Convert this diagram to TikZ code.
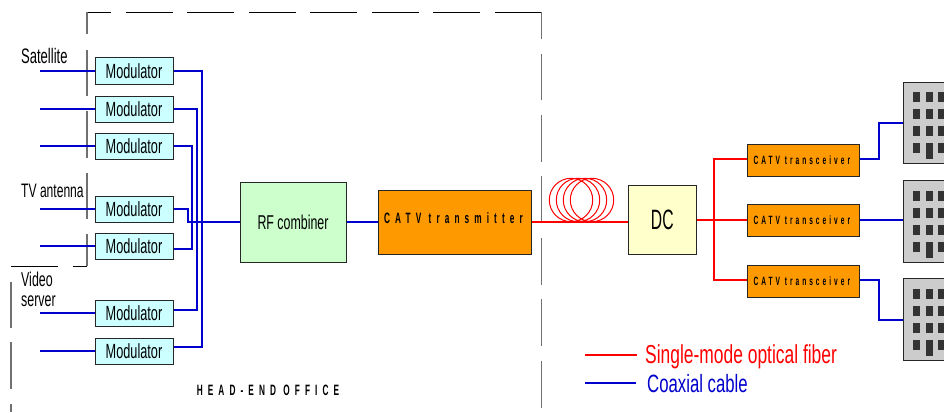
\documentclass[tikz,border=0pt]{standalone}
\usepackage{fontspec}
\setmainfont{Liberation Sans}
\newfontfamily\condfont[FakeStretch=0.62]{Liberation Sans}
\newfontfamily\legendfont[FakeStretch=0.67]{Liberation Sans}
\newfontfamily\dcfont[FakeStretch=0.56]{Liberation Sans}
\newfontfamily\spacedfont[FakeStretch=0.55,LetterSpace=34]{Liberation Sans Bold}
\newfontfamily\smallspaced[FakeStretch=0.55,LetterSpace=25]{Liberation Sans Bold}
\definecolor{wire}{HTML}{0000CC}
\definecolor{fiber}{HTML}{FF0000}
\definecolor{orangebox}{HTML}{FF9900}
\definecolor{dashgray}{HTML}{707070}
\definecolor{modfill}{HTML}{CCFFFF}
\definecolor{rffill}{HTML}{CCFFCC}
\definecolor{dcfill}{HTML}{FFFFCC}
\definecolor{bldgfill}{HTML}{CCCCCC}
\definecolor{winfill}{HTML}{333333}
\tikzset{
  x=1pt,y=-1pt,
  box/.style={draw=black!85,line width=1pt,inner sep=0pt},
  modbox/.style={box,fill=modfill,minimum width=78pt,minimum height=26pt,font=\condfont\fontsize{20.5}{20.5}\selectfont},
  txbox/.style={box,fill=orangebox,minimum width=111.5pt,minimum height=32pt,font=\smallspaced\fontsize{12}{12}\selectfont},
  bldg/.style={draw=black!85,line width=1pt,fill=bldgfill,minimum width=60pt,minimum height=81.5pt,inner sep=0pt},
  coax/.style={draw=wire,line width=1.3pt},
  optic/.style={draw=fiber,line width=1.3pt},
  vdash/.style={draw=dashgray,line width=1.3pt},
  hdash/.style={draw=black,line width=1pt},
  lbl/.style={anchor=west,inner sep=0pt,font=\condfont\fontsize{20}{20}\selectfont},
  legendlbl/.style={anchor=west,inner sep=0pt,font=\legendfont\fontsize{26}{26}\selectfont},
  win/.style={fill=winfill,draw=none},
}
\begin{document}
\begin{tikzpicture}
\clip (0,0) rectangle (944,412);
\fill[white] (0,0) rectangle (944,412);
% office outline
\foreach \a/\b in {87/111,126/173,187/234,249/296,310/357,372/419,433/480,495/542}
  \draw[hdash] (\a,12.5) -- (\b,12.5);
\foreach \a/\b in {12.5/39,54/100,115/162,176/223,238/285,299/346,361/408}
  \draw[vdash] (541.5,\a) -- (541.5,\b);
\foreach \a/\b in {12.5/34.5,50/96,111/157.5,172.7/219,234/266}
  \draw[vdash] (87,\a) -- (87,\b);
\foreach \a/\b in {281.5/327.5,342/388.5,404/412}
  \draw[vdash] (11,\a) -- (11,\b);
\draw[hdash] (11,266.5) -- (58,266.5);
\draw[hdash] (73,266.5) -- (87,266.5);
% nodes
\node[modbox] (m1) at (134,71) {Modulator};
\node[modbox] (m2) at (134,109) {Modulator};
\node[modbox] (m3) at (134,146) {Modulator};
\node[modbox] (m4) at (134,209) {Modulator};
\node[modbox] (m5) at (134,246) {Modulator};
\node[modbox] (m6) at (134,313) {Modulator};
\node[modbox] (m7) at (134,351) {Modulator};
\node[box,fill=rffill,minimum width=106pt,minimum height=80pt,font=\condfont\fontsize{20}{20}\selectfont] (rf) at (293,222) {RF combiner};
\node[box,fill=orangebox,minimum width=153pt,minimum height=64pt] (tx) at (455,222) {};
\node[inner sep=0pt,font=\spacedfont\fontsize{15}{15}\selectfont] (txt) at (453.5,218) {CATV transmitter};
\node[box,fill=dcfill,minimum width=67.5pt,minimum height=69pt,font=\dcfont\fontsize{28}{28}\selectfont] (dc) at (662.3,219.5) {DC};
\node[txbox] (t1) at (803.3,160) {CATV transceiver\hspace*{3pt}};
\node[txbox] (t2) at (803.3,220) {CATV transceiver\hspace*{3pt}};
\node[txbox] (t3) at (803.3,281) {CATV transceiver\hspace*{3pt}};
\node[bldg,anchor=north west] (b1) at (902.5,81.5) {};
\node[bldg,anchor=north west] (b2) at (902.5,180) {};
\node[bldg,anchor=north west] (b3) at (902.5,278) {};
\foreach \t in {81.5,180,278}{
  \foreach \r in {10.5,27.5,44.5,61.5}{
    \fill[win] (913,\t+\r) rectangle (920,\t+\r+10);
    \fill[win] (938,\t+\r) rectangle (945,\t+\r+10);
  }
  \foreach \r in {10.5,27.5,44.5}
    \fill[win] (926,\t+\r) rectangle (933,\t+\r+10);
  \fill[win] (926,\t+61.5) rectangle (933,\t+77.5);
}
% free ends
\coordinate (i1) at (40,71);
\coordinate (i2) at (40,109);
\coordinate (i3) at (40,146);
\coordinate (i4) at (40,209);
\coordinate (i5) at (40,246);
\coordinate (i6) at (40,313);
\coordinate (i7) at (40,351);
\foreach \n in {1,...,7} \draw[coax] (i\n) -- (m\n.west);
% modulator outputs
\draw[coax] (m1.east) -- (202,71) -- (202,347) -- ([yshift=4pt]m7.east);
\draw[coax] (m2.east) -- (197,109) -- (197,310) -- ([yshift=3pt]m6.east);
\draw[coax] (m3.east) -- (192,146) -- (192,249) -- ([yshift=-3pt]m5.east);
\draw[coax] (m4.east) -- (188,209) -- (188,222) -- (rf.west);
\draw[coax] (rf.east) -- (tx.west);
% fiber
\draw[optic] (tx.east) -- (dc.west |- tx.east);
\foreach \c in {571,578,585,592}
  \draw[fiber,line width=1pt] (\c,200) circle[radius=21.7];
\draw[optic] (dc.east |- t2.west) -- (t2.west);
\draw[optic] (714,220) |- ([yshift=1pt]t1.west);
\draw[optic] (714,220) |- ([yshift=1pt]t3.west);
% building feeds
\draw[coax] ([yshift=1pt]t1.east) -- (879,159) -- (879,123) -- (b1.west |- 0,123);
\draw[coax] (t2.east) -- (b2.west |- t2.east);
\draw[coax] ([yshift=1pt]t3.east) -- (879,280) -- (879,320) -- (b3.west |- 0,320);
% labels
\node[lbl,font=\condfont\fontsize{21}{21}\selectfont] (satl) at (21,56) {Satellite};
\node[lbl,font=\condfont\fontsize{19.5}{19.5}\selectfont] (tvl) at (21,191) {TV antenna};
\node[lbl] (vidl) at (21,279) {Video};
\node[lbl] (srvl) at (21,301) {server};
\node[inner sep=0pt,font=\spacedfont\fontsize{15}{15}\selectfont] (ho) at (268,390) {HEAD-END OFFICE};
% legend
\coordinate (la) at (585,355);
\coordinate (lb) at (637,355);
\coordinate (lc) at (585,383);
\coordinate (ld) at (636,383);
\draw[optic] (la) -- (lb);
\draw[coax] (lc) -- (ld);
\node[legendlbl,text=fiber] (l1) at (645,357) {Single-mode optical fiber};
\node[legendlbl,text=wire,font=\legendfont\fontsize{25}{25}\selectfont] (l2) at (647,384) {Coaxial cable};
\end{tikzpicture}
\end{document}
